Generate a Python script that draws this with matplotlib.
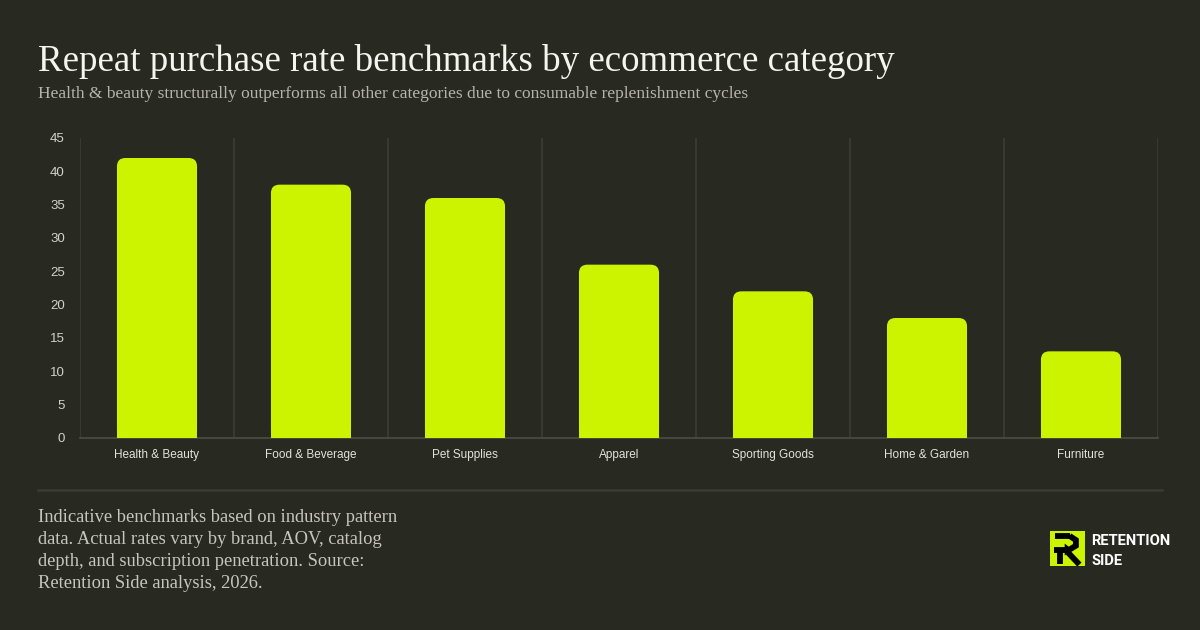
import matplotlib
matplotlib.use("Agg")
import matplotlib.pyplot as plt
from matplotlib.patches import FancyBboxPatch, Rectangle, Polygon
from matplotlib.lines import Line2D

categories = ["Health & Beauty", "Food & Beverage", "Pet Supplies", "Apparel",
              "Sporting Goods", "Home & Garden", "Furniture"]
rates = [42, 38, 36, 26, 22, 18, 13]
yticks = [0, 5, 10, 15, 20, 25, 30, 35, 40, 45]

title = "Repeat purchase rate benchmarks by ecommerce category"
subtitle = ("Health & beauty structurally outperforms all other categories "
            "due to consumable replenishment cycles")
footnote = ["Indicative benchmarks based on industry pattern",
            "data. Actual rates vary by brand, AOV, catalog",
            "depth, and subscription penetration. Source:",
            "Retention Side analysis, 2026."]

BG = "#282a22"
BAR = "#ccf400"
GRID = "#3c3e36"
SERIF = ["Liberation Serif", "DejaVu Serif"]
SANS = ["Liberation Sans", "DejaVu Sans"]

fig = plt.figure(figsize=(12, 6.3), dpi=100, facecolor=BG)
W, H = 1200, 630


def fx(px):
    return px / W


def fy(py):
    return 1 - py / H


ax = fig.add_axes([fx(80), fy(438), fx(1158) - fx(80), fy(138) - fy(438)])
ax.set_facecolor(BG)

x = list(range(len(categories)))
bars = ax.bar(x, rates, width=0.52, color=BAR, alpha=0)
rx, ry = 0.055, 1.25
for b in bars:
    x0, w, h = b.get_x(), b.get_width(), b.get_height()
    ax.add_patch(FancyBboxPatch((x0, 0), w, h,
                                boxstyle=f"round,pad=0,rounding_size={rx}",
                                mutation_aspect=ry / rx,
                                fc=BAR, ec="none", zorder=3))
    ax.add_patch(Rectangle((x0, 0), w, h / 2, fc=BAR, ec="none", zorder=3))

ax.set_xlim(-0.5, len(categories) - 0.5)
ax.set_ylim(0, 45)
for i in range(len(categories) + 1):
    ax.axvline(i - 0.5, color=GRID, lw=1.2, zorder=1)

ax.set_yticks(yticks)
ax.set_xticks(x)
ax.set_xticklabels(categories)
ax.tick_params(axis="y", length=0, pad=11, labelsize=9.5, labelcolor="#d2d2ca")
ax.tick_params(axis="x", length=0, pad=8, labelsize=8.5, labelcolor="#e2e2da")
for lab in ax.get_xticklabels() + ax.get_yticklabels():
    lab.set_fontfamily(SANS)
for s in ["top", "right", "left"]:
    ax.spines[s].set_visible(False)
ax.spines["bottom"].set_color("#4a4c44")
ax.spines["bottom"].set_linewidth(1.3)

fig.text(fx(38), fy(71), title, family=SERIF, fontsize=26.6, color="#f5f5ef",
         va="baseline", ha="left")
fig.text(fx(38), fy(98), subtitle, family=SERIF, fontsize=12.55, color="#b4b4ac",
         va="baseline", ha="left")

fig.add_artist(Line2D([fx(38), fx(1162)], [fy(490), fy(490)], color="#3a3c34",
                      lw=1.8, transform=fig.transFigure))

for i, line in enumerate(footnote):
    fig.text(fx(38), fy(522 + i * 22), line, family=SERIF, fontsize=13.3,
             color="#c6c6be", va="baseline", ha="left")

# logo
lg = fig.add_axes([fx(1050), fy(566), fx(35), fy(531) - fy(566)])
lg.set_xlim(0, 1)
lg.set_ylim(0, 1)
lg.set_facecolor(BAR)
lg.set_xticks([])
lg.set_yticks([])
for s in lg.spines.values():
    s.set_visible(False)
k = dict(color="black", lw=4.2, solid_capstyle="butt", solid_joinstyle="miter")
lg.plot([0.14, 0.58], [0.86, 0.86], **k)
lg.plot([0.56, 0.74, 0.74, 0.56], [0.86, 0.74, 0.58, 0.47], **k)
lg.plot([0.1, 0.46], [0.47, 0.47], **k)
lg.add_patch(Polygon([[0.42, 0.64], [0.64, 0.47], [0.42, 0.30]], fc="black"))
lg.plot([0.28, 0.28], [0.47, 0.05], **k)
lg.plot([0.5, 0.84], [0.40, 0.04], **k)

LOGO = ["Roboto", "DejaVu Sans"]
fig.text(fx(1091), fy(545), "RETENTION", family=LOGO, weight="bold",
         fontsize=10.6, color="white", va="baseline", ha="left")
fig.text(fx(1091), fy(565), "SIDE", family=LOGO, weight="bold",
         fontsize=10.6, color="white", va="baseline", ha="left")

fig.savefig("out.png", dpi=100, facecolor=BG)
